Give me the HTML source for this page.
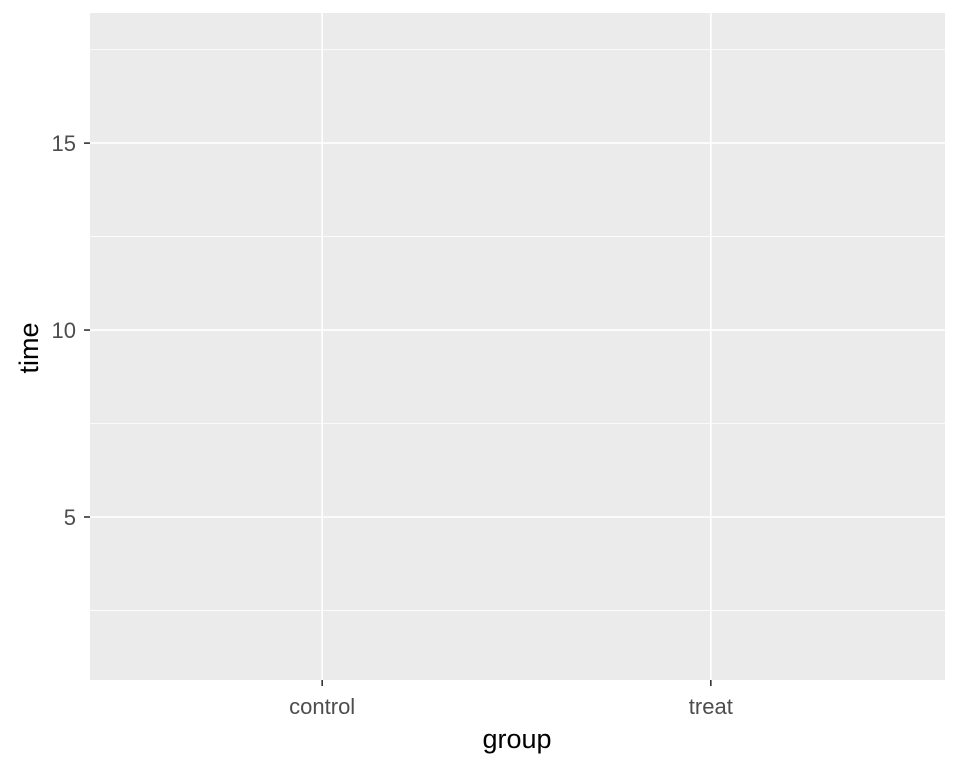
<!DOCTYPE html>
<html><head><meta charset="utf-8"><style>
body{margin:0;background:#fff;}
svg text{font-family:"Liberation Sans",Arial,sans-serif;}
</style></head><body>
<svg id="chart" width="960" height="768" xmlns="http://www.w3.org/2000/svg">
<rect x="0" y="0" width="960" height="768" fill="#fff"/>
<rect x="90" y="13" width="855" height="667" fill="#ebebeb"/>
<g id="grid"></g>
<g id="axes"></g>
<text x="517" y="748" font-size="27" text-anchor="middle" fill="#000">group</text>
<text transform="translate(38,348) rotate(-90)" font-size="27" text-anchor="middle" fill="#000">time</text>
</svg>
<script>
const categories = ["control","treat"];
const yTicks = [5,10,15];
const yMinor = [2.5,7.5,12.5,17.5];
const yDomain = [0.64,18.48];
const panel = {x0:90,x1:945,y0:13,y1:680};
function yScale(v){return panel.y1-(v-yDomain[0])/(yDomain[1]-yDomain[0])*(panel.y1-panel.y0);}
function xScale(i){const w=(panel.x1-panel.x0)/(categories.length+0.2);return panel.x0+w*(i+0.6)-1;}
const ns="http://www.w3.org/2000/svg";
const grid=document.getElementById('grid'), axes=document.getElementById('axes');
function mk(tag,attrs,parent){const e=document.createElementNS(ns,tag);for(const k in attrs)e.setAttribute(k,attrs[k]);parent.appendChild(e);return e;}
yMinor.forEach(v=>{const y=yScale(v);
 const l=mk('line',{x1:panel.x0,x2:panel.x1,y1:y,y2:y,stroke:'#fff','stroke-width':0.8},grid);
 
 });
yTicks.forEach(v=>{const y=yScale(v);
 const l=mk('line',{x1:panel.x0,x2:panel.x1,y1:y,y2:y,stroke:'#fff','stroke-width':1.6},grid);
 
 
 const t=mk('line',{x1:panel.x0-6,x2:panel.x0,y1:y,y2:y,stroke:'#333','stroke-width':1.6},axes);
 
 
 const tx=mk('text',{x:panel.x0-14,y:y+8,'font-size':22,'text-anchor':'end',fill:'#4d4d4d'},axes);
 tx.textContent=v;
 
 });
categories.forEach((c,i)=>{const x=xScale(i);
 const l=mk('line',{x1:x,x2:x,y1:panel.y0,y2:panel.y1,stroke:'#fff','stroke-width':1.6},grid);
 
 
 const t=mk('line',{x1:x,x2:x,y1:panel.y1,y2:panel.y1+6,stroke:'#333','stroke-width':1.6},axes);
 
 
 const tx=mk('text',{x:x,y:714,'font-size':22,'text-anchor':'middle',fill:'#4d4d4d'},axes);
 tx.textContent=c;
 
 });
</script>
</body></html>
